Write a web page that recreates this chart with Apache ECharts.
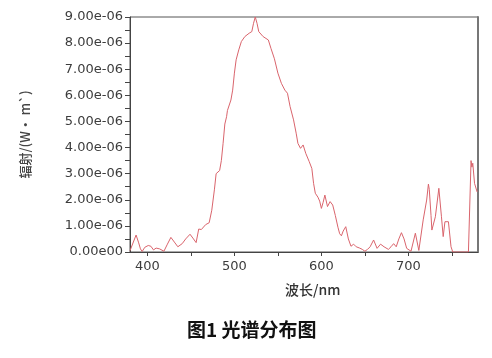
<!DOCTYPE html>
<html>
<head>
<meta charset="utf-8">
<script src="https://cdn.jsdelivr.net/npm/echarts@6/dist/echarts.min.js"></script>
<style>
html,body{margin:0;padding:0;background:#fff;}
#chart{width:492px;height:358px;}
</style>
</head>
<body>
<div id="chart"></div>
<script>
// Wavelength (nm)
const wavelength = [380,387,390,392,394,397,401,404,407,410,414,419,423,427,431,435,440,444,449,453,456,459,462,464,467,471,474,477,479,483,485,487,489,491,492,496,498,500,502,505,508,512,517,520,522,524,526,528,533,539,542,546,550,554,558,561,564,568,571,573,576,579,582,586,589,591,593,596,598,600,602,604,607,610,613,616,619,621,623,625,628,631,634,637,640,644,647,650,653,656,660,664,668,672,677,680,683,686,689,692,695,698,703,708,712,717,721,723,724,726,727,731,735,738,740,742,746,749,751,769,772,773,774,776,779];
// Radiance (W·m^-2)
const radiance = [0.05e-6,0.65e-6,0.35e-6,0.12e-6,0.02e-6,0.18e-6,0.25e-6,0.22e-6,0.08e-6,0.15e-6,0.12e-6,0.03e-6,0.30e-6,0.56e-6,0.38e-6,0.20e-6,0.32e-6,0.50e-6,0.68e-6,0.50e-6,0.36e-6,0.88e-6,0.86e-6,0.82e-6,1.05e-6,1.12e-6,1.60e-6,2.38e-6,3.00e-6,3.12e-6,3.50e-6,4.16e-6,4.90e-6,5.18e-6,5.42e-6,5.82e-6,6.20e-6,6.85e-6,7.36e-6,7.74e-6,8.06e-6,8.25e-6,8.38e-6,8.44e-6,8.76e-6,9.00e-6,8.76e-6,8.44e-6,8.25e-6,8.12e-6,7.80e-6,7.40e-6,6.85e-6,6.46e-6,6.20e-6,6.08e-6,5.57e-6,5.06e-6,4.55e-6,4.16e-6,3.97e-6,4.10e-6,3.78e-6,3.46e-6,3.20e-6,2.63e-6,2.25e-6,2.10e-6,1.95e-6,1.67e-6,1.90e-6,2.18e-6,1.74e-6,1.93e-6,1.80e-6,1.40e-6,0.95e-6,0.70e-6,0.62e-6,0.80e-6,0.97e-6,0.50e-6,0.22e-6,0.30e-6,0.20e-6,0.15e-6,0.10e-6,0.03e-6,0.10e-6,0.20e-6,0.46e-6,0.14e-6,0.30e-6,0.20e-6,0.10e-6,0.20e-6,0.32e-6,0.20e-6,0.50e-6,0.74e-6,0.50e-6,0.14e-6,0.03e-6,0.72e-6,0.06e-6,1.23e-6,1.99e-6,2.60e-6,2.40e-6,1.40e-6,0.84e-6,1.35e-6,2.44e-6,1.35e-6,0.59e-6,1.16e-6,1.16e-6,0.20e-6,0,0,3.50e-6,3.25e-6,3.40e-6,2.63e-6,2.30e-6];
const xTicks = [400,450,500,550,600,650,700,750];
const xLabels = [400,500,600,700];
const yTitle = '辐射/(W• m`)';
const xTitle = '波长/nm';
const caption = '图1 光谱分布图';

function fmtY(v){
  if (Math.abs(v) < 1e-12) return '0.00e00';
  const s = v.toExponential(2);
  const m = s.match(/^(-?[\d.]+)e([+-])(\d+)$/);
  let exp = m[3].length < 2 ? '0' + m[3] : m[3];
  return m[1] + 'e' + (m[2] === '-' ? '-' : '') + exp;
}

const chart = echarts.init(document.getElementById('chart'), null, {renderer:'canvas'});
const labelColor = '#3c3c3c';
chart.setOption({
  animation:false,
  backgroundColor:'#fff',
  grid:{left:130, top:17, right:14, bottom:106, show:true, borderColor:'#555', borderWidth:1, backgroundColor:'transparent'},
  xAxis:{
    type:'value', min:380, max:780,
    axisLine:{show:true, lineStyle:{color:'#444', width:1}},
    axisTick:{show:true, length:4, lineStyle:{color:'#444'}, customValues:xTicks},
    axisLabel:{color:labelColor, fontFamily:'DejaVu Sans', fontSize:13, margin:8, customValues:xLabels},
    splitLine:{show:false}
  },
  yAxis:[{
    type:'value', min:0, max:9e-6, interval:1e-6,
    name:yTitle, nameLocation:'middle', nameGap:98, nameRotate:90,
    nameTextStyle:{color:'#444', fontFamily:'Noto Sans CJK SC', fontSize:13, fontWeight:'500'},
    axisLine:{show:true, lineStyle:{color:'#444', width:1}},
    axisTick:{show:true, length:5, lineStyle:{color:'#444'}},
    minorTick:{show:true, splitNumber:2, length:5, lineStyle:{color:'#444'}},
    axisLabel:{color:labelColor, fontFamily:'DejaVu Sans', fontSize:13, margin:7, formatter:fmtY},
    splitLine:{show:false}
  },{
    type:'value', min:0, max:9e-6, position:'right',
    axisLine:{show:true, lineStyle:{color:'#777', width:2}},
    axisTick:{show:false}, axisLabel:{show:false}, splitLine:{show:false}
  }],
  graphic:[
    {type:'text', left:285, top:283, style:{text:xTitle, fill:'#333', font:'500 14px "Noto Sans CJK SC"'}},
    {type:'text', left:187, top:320, style:{text:caption, fill:'#111', font:'bold 19px "Noto Sans CJK SC"'}}
  ],
  series:[{
    type:'line',
    yAxisIndex:0,
    data:wavelength.map((w,i)=>[w, radiance[i]]),
    showSymbol:false,
    lineStyle:{color:'#d9646c', width:1},
    clip:true
  }]
});
</script>
</body>
</html>
